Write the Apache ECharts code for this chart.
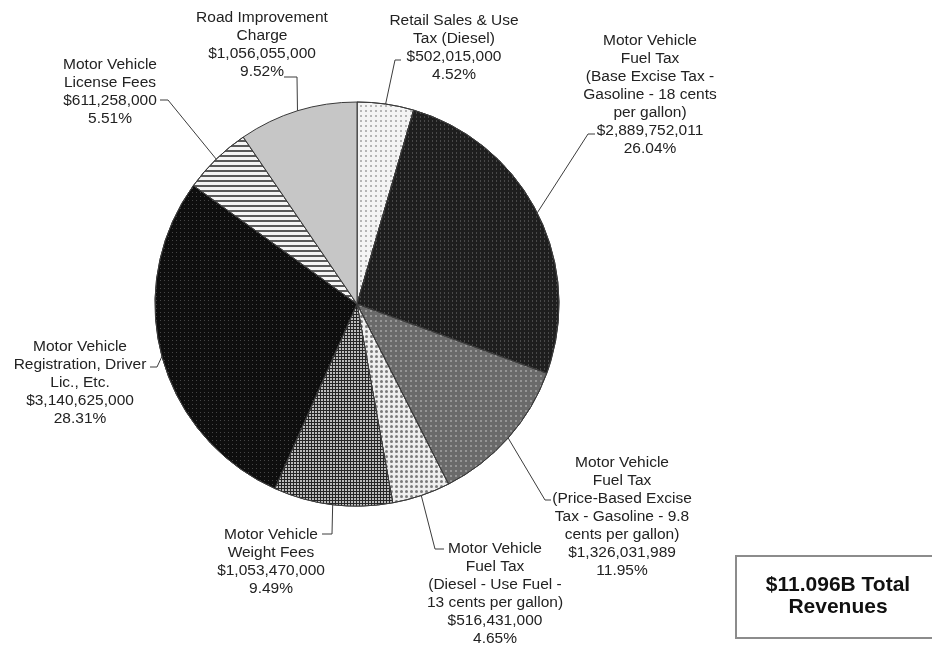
<!DOCTYPE html>
<html>
<head>
<meta charset="utf-8">
<title>Revenues</title>
<script src="https://cdn.jsdelivr.net/npm/echarts@6/dist/echarts.min.js"></script>
<style>
  html, body { margin: 0; padding: 0; background: #fff; }
  #pieChart { width: 932px; height: 645px; }
</style>
</head>
<body>
<div id="pieChart"></div>
<script>
// clockwise from 12 o'clock
const categories = [
  'Retail Sales & Use\nTax (Diesel)',
  'Motor Vehicle\nFuel Tax\n(Base Excise Tax -\nGasoline - 18 cents\nper gallon)',
  'Motor Vehicle\nFuel Tax\n(Price-Based Excise\nTax - Gasoline - 9.8\ncents per gallon)',
  'Motor Vehicle\nFuel Tax\n(Diesel - Use Fuel -\n13 cents per gallon)',
  'Motor Vehicle\nWeight Fees',
  'Motor Vehicle\nRegistration, Driver\nLic., Etc.',
  'Motor Vehicle\nLicense Fees',
  'Road Improvement\nCharge'
]
const revenues = [502015000, 2889752011, 1326031989, 516431000, 1053470000, 3140625000, 611258000, 1056055000]

// label placement: centre x, first line y, leader bend, leader end
const labelX = [454, 650, 622, 495, 271, 80, 110, 262]
const labelY = [21, 41, 463, 549, 535, 347, 65, 18]
const bendPts = [[395, 60], [588, 134], [545, 500], [435, 549], [332, 534], [157, 367], [168, 100], [297, 77]]
const endPts = [[401, 60], [595, 134], [551, 500], [444, 549], [322, 534], [150, 367], [160, 100], [284, 77]]

const fills = ['#f4f4f4', '#1e1e1e', '#6a6a6a', '#efefef', '#262626', '#0e0e0e', '#f5f5f5', '#c6c6c6']
const decals = [
  { symbol: 'circle', dashArrayX: [2, 3], dashArrayY: [2, 3], color: '#a0a0a0' },
  { symbol: 'rect', dashArrayX: [1, 3], dashArrayY: [2, 2], color: '#4a4a4a' },
  { symbol: 'circle', dashArrayX: [2, 3], dashArrayY: [2, 3], color: '#a4a4a4' },
  { symbol: 'circle', dashArrayX: [3, 2], dashArrayY: [3, 2], color: '#7a7a7a' },
  { symbol: 'rect', dashArrayX: [2, 1], dashArrayY: [2, 1], color: '#bdbdbd' },
  { symbol: 'rect', dashArrayX: [1, 3], dashArrayY: [1, 3], color: '#464646' },
  { symbol: 'rect', dashArrayX: [1, 0], dashArrayY: [2, 3], color: '#5a5a5a' },
  null
]

const total = revenues.reduce((a, b) => a + b, 0)
const LINE_H = 18

const chart = echarts.init(document.getElementById('pieChart'))
chart.setOption({
  animation: false,
  backgroundColor: '#fff',
  graphic: [
    {
      type: 'rect',
      shape: { x: 736, y: 556, width: 220, height: 82 },
      style: { fill: '#fff', stroke: '#8c8c8c', lineWidth: 2 }
    },
    {
      type: 'text',
      x: 838,
      y: 596,
      style: {
        text: '$' + (total / 1e9).toFixed(3) + 'B Total\nRevenues',
        font: 'bold 21px "Liberation Sans", Arial, sans-serif',
        lineHeight: 22,
        textAlign: 'center',
        textVerticalAlign: 'middle',
        fill: '#111'
      }
    }
  ],
  series: [
    {
      type: 'pie',
      center: [357, 304],
      radius: 202,
      startAngle: 90,
      clockwise: true,
      silent: true,
      itemStyle: { borderColor: '#3a3a3a', borderWidth: 1 },
      label: {
        show: true,
        position: 'outside',
        overflow: 'none',
        fontFamily: '"Liberation Sans", Arial, sans-serif',
        fontSize: 15.5,
        lineHeight: LINE_H,
        color: '#222',
        align: 'center',
        formatter: p => p.name + '\n$' + p.value.toLocaleString('en-US') + '\n' +
          (p.value / total * 100).toFixed(2) + '%'
      },
      labelLine: {
        show: true,
        lineStyle: { color: '#3c3c3c', width: 1 }
      },
      labelLayout: params => {
        const i = params.dataIndex
        return {
          x: labelX[i],
          y: labelY[i] - LINE_H / 2,
          align: 'center',
          verticalAlign: 'top',
          labelLinePoints: [params.labelLinePoints[0], bendPts[i], endPts[i]]
        }
      },
      data: categories.map((name, i) => ({
        name: name,
        value: revenues[i],
        itemStyle: decals[i] ? { color: fills[i], decal: decals[i] } : { color: fills[i] }
      }))
    }
  ]
})
</script>
</body>
</html>
